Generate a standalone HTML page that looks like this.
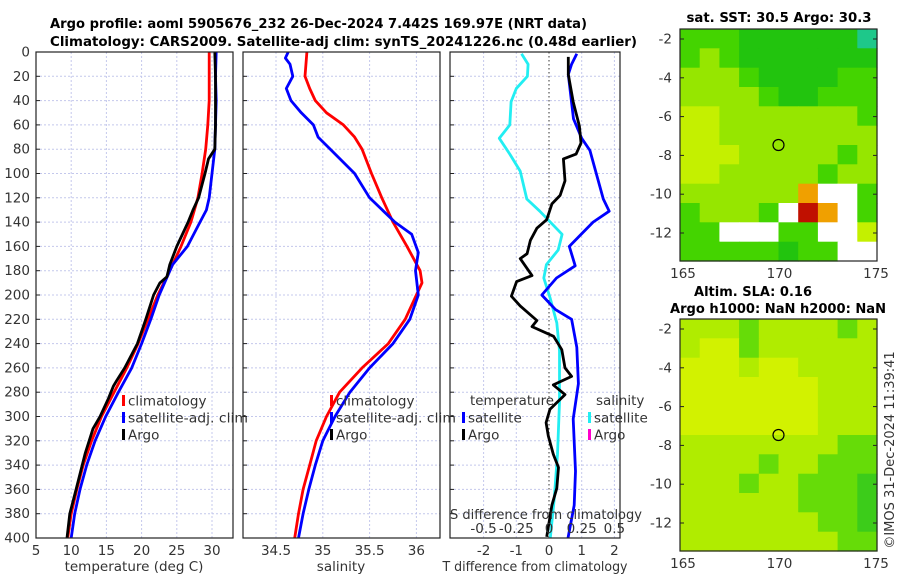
<!DOCTYPE html>
<html><head><meta charset="utf-8"><style>
html,body{margin:0;padding:0;background:#fff;}
svg{display:block;font-family:"DejaVu Sans","Liberation Sans",sans-serif;}
.t{font-size:13.5px;fill:#333;}
.b{font-weight:bold;font-size:13px;fill:#000;}
</style></head><body>
<svg id="fig" width="900" height="580" viewBox="0 0 900 580" xmlns="http://www.w3.org/2000/svg">
<defs>
<clipPath id="c1"><rect x="36" y="52" width="197" height="486"/></clipPath>
<clipPath id="c2"><rect x="243" y="52" width="197" height="486"/></clipPath>
<clipPath id="c3"><rect x="450" y="52" width="170" height="486"/></clipPath>
</defs>
<text class="b" x="50" y="28" textLength="537" lengthAdjust="spacingAndGlyphs">Argo profile: aoml 5905676_232 26-Dec-2024 7.442S 169.97E (NRT data)</text>
<text class="b" x="50" y="46" textLength="587" lengthAdjust="spacingAndGlyphs">Climatology: CARS2009. Satellite-adj clim: synTS_20241226.nc (0.48d earlier)</text>
<g id="grids"></g>
<g id="lines"></g>
<g id="frames"></g>
<g id="labels"></g>
<g id="maps"></g>
<text class="t" transform="translate(894,450) rotate(-90)" text-anchor="middle" style="font-size:13px">©IMOS 31-Dec-2024 11:39:41</text>
</svg>
<script>
// ---- data ----
const depthTicks=[0,20,40,60,80,100,120,140,160,180,200,220,240,260,280,300,320,340,360,380,400];
const tempTicks=[5,10,15,20,25,30];
const salTicks=[34.5,35,35.5,36];
const tdiffTicks=[-2,-1,0,1,2];
const sdiffTickLabels=["-0.5","-0.25","0","0.25","0.5"];
const sdiffTickValues=[-0.5,-0.25,0,0.25,0.5];

const climTD=[0,20,40,60,80,100,120,140,160,180,200,220,240,260,280,300,320,340,360,380,400];
const climT=[29.6,29.6,29.6,29.4,29.1,28.6,28.0,27.0,25.6,24.0,22.3,20.9,19.5,17.9,16.1,14.3,12.9,11.7,10.8,10.0,9.5];
const satTD=[0,20,40,60,80,100,120,130,140,160,175,200,220,240,260,280,300,320,340,360,380,400];
const satT=[30.6,30.5,30.6,30.5,30.4,30.0,29.6,29.2,28.3,26.5,24.4,22.5,21.3,20.0,18.6,16.7,14.9,13.4,12.2,11.25,10.5,10.0];
const argoTD=[0,20,40,60,80,88,100,120,130,140,160,175,185,190,200,220,230,240,260,270,275,285,300,310,330,360,380,400];
const argoT=[30.4,30.5,30.5,30.5,30.4,29.5,29.0,28.1,27.3,26.6,25.0,24.0,23.6,22.6,21.7,20.6,20.0,19.4,17.6,16.5,16.0,15.3,14.1,13.1,12.0,10.7,9.8,9.4];

const climSD=[0,20,30,40,50,60,70,80,100,120,140,160,180,190,200,220,240,260,280,300,320,340,360,380,400];
const climS=[34.83,34.81,34.86,34.92,35.04,35.22,35.34,35.42,35.52,35.63,35.75,35.90,36.04,36.06,36.0,35.88,35.70,35.42,35.18,35.04,34.93,34.86,34.79,34.74,34.70];
const satSD=[0,5,10,20,30,40,50,60,70,80,100,120,140,150,165,180,200,220,240,260,280,300,320,340,360,380,400];
const satS=[34.63,34.60,34.65,34.68,34.61,34.66,34.77,34.90,34.95,35.08,35.34,35.50,35.77,35.95,36.02,35.99,36.02,35.93,35.75,35.50,35.29,35.13,35.0,34.92,34.85,34.79,34.74];

const satTdiffD=[1.5,10,18.5,55,71,81,121,131,140,160,176,186,200,212,220,243,273,302,345,373,400];
const satTdiff=[0.85,0.69,0.59,0.75,1.0,1.25,1.66,1.84,1.35,0.62,0.8,0.23,-0.22,0.2,0.69,0.85,0.9,0.74,0.81,0.77,0.58];
const satSdiffD=[1.5,10,20,30,41,60,71,84,98,121,131,150,163,175,186,203,223,246,288,331,368,400];
const satSdiff=[-0.21,-0.16,-0.165,-0.25,-0.29,-0.3,-0.38,-0.3,-0.22,-0.17,-0.07,0.1,0.07,-0.02,-0.04,0.01,0.06,0.08,0.08,0.065,0.04,0.01];
const argoTdiffD=[4,18.5,41,61,75,84,88,106,118,125,138,145,155,166,170,184,189,201,209,221,226,234,245,260,267,274,282,294,305,316,331,342,359,373,399];
const argoTdiff=[0.59,0.59,0.74,0.93,0.98,0.83,0.44,0.49,0.34,0.09,-0.07,-0.37,-0.57,-0.67,-0.88,-0.52,-0.99,-1.15,-0.88,-0.37,-0.52,0.14,0.39,0.49,0.69,0.13,0.49,0.03,-0.09,-0.02,0.13,0.29,0.24,0.09,-0.07];

const sstGrid=["GGGDDDDDDT","GLGDDDDDDD","LLLGDDDDGG","LLLLGDDGGG","YYLLLLLLLG","YYLLLLLLLL","YYYLLLLLGL","YYLLLLLGLL","LLLLLLOWWG","GLLLGWROWG","GGWWWGGWWY","GGGGGDGGWW"];
const slaGrid=["LLLGLLLLGL","LYYGLLLLLL","YYYLYYLLLL","YYYYYYYLLL","YYYYYYYLLL","YYYYYYYLLL","LLLLLLLLGG","LLLLGLLGGG","LLLGLLGGGD","LLLLLLGGGD","LLLLLLLGGD","LLLLLLLLGG"];

// ---- scales ----
const y=d=>52+d*1.215;
const x1=t=>36+(t-5)*7.04;
const x2=s=>276+(s-34.5)*93.6;
const x3=t=>549+t*32.7;
const x3s=s=>549+s*130.8;
const NS="http://www.w3.org/2000/svg";
function mk(tag,attrs,parent,text){const e=document.createElementNS(NS,tag);for(const k in attrs)e.setAttribute(k,attrs[k]);if(text!==undefined)e.textContent=text;document.getElementById(parent).appendChild(e);return e;}

const panels=[{x0:36,x1:233,clip:"c1"},{x0:243,x1:440,clip:"c2"},{x0:450,x1:620,clip:"c3"}];
panels.forEach((p,i)=>{
  depthTicks.forEach(d=>{if(d>0&&d<400){const g=mk("line",{x1:p.x0,x2:p.x1,y1:y(d),y2:y(d),stroke:"#c4c8ec","stroke-width":1,"stroke-dasharray":"2,2"},"grids");
  
  }});
});
tempTicks.forEach(t=>{const g=mk("line",{x1:x1(t),x2:x1(t),y1:52,y2:538,stroke:"#c4c8ec","stroke-dasharray":"2,2"},"grids");

});
salTicks.forEach(t=>{const g=mk("line",{x1:x2(t),x2:x2(t),y1:52,y2:538,stroke:"#c4c8ec","stroke-dasharray":"2,2"},"grids");

});
tdiffTicks.forEach(t=>{if(t!==0){const g=mk("line",{x1:x3(t),x2:x3(t),y1:52,y2:538,stroke:"#c4c8ec","stroke-dasharray":"2,2"},"grids");

}});
const z=mk("line",{x1:x3(0),x2:x3(0),y1:52,y2:538,stroke:"#333","stroke-dasharray":"1.5,2.5"},"grids");



function series(xs,ds,fx,color,clip,name){
  const pts=xs.map((v,i)=>fx(v).toFixed(1)+","+y(ds[i]).toFixed(1)).join(" ");
  const l=mk("polyline",{points:pts,fill:"none",stroke:color,"stroke-width":2.8,"stroke-linejoin":"round","clip-path":"url(#"+clip+")"},"lines");
  
  
}
series(climT,climTD,x1,"#ff0000","c1","climatology-temp-line");
series(satT,satTD,x1,"#0000ff","c1","satellite-temp-line");
series(argoT,argoTD,x1,"#000000","c1","argo-temp-line");
series(climS,climSD,x2,"#ff0000","c2","climatology-sal-line");
series(satS,satSD,x2,"#0000ff","c2","satellite-sal-line");
series(satSdiff,satSdiffD,x3s,"#22eef2","c3","satellite-sdiff-line");
series(satTdiff,satTdiffD,x3,"#0000ff","c3","satellite-tdiff-line");
series(argoTdiff,argoTdiffD,x3,"#000000","c3","argo-tdiff-line");

panels.forEach((p,i)=>{
  const r=mk("rect",{x:p.x0,y:52,width:p.x1-p.x0,height:486,fill:"none",stroke:"#222","stroke-width":1.2},"frames");
  
  
  depthTicks.forEach(d=>{const t=mk("line",{x1:p.x0,x2:p.x0+4,y1:y(d),y2:y(d),stroke:"#222"},"frames");
  
  });
});
depthTicks.forEach(d=>{const t=mk("text",{x:30,y:y(d)+4.5,"text-anchor":"end",class:"t"},"labels",String(d));

});
tempTicks.forEach(v=>{const t=mk("text",{x:x1(v),y:555,"text-anchor":"middle",class:"t"},"labels",String(v));

});
salTicks.forEach(v=>{const t=mk("text",{x:x2(v),y:555,"text-anchor":"middle",class:"t"},"labels",String(v));

});
tdiffTicks.forEach(v=>{const t=mk("text",{x:x3(v),y:555,"text-anchor":"middle",class:"t"},"labels",String(v));

});
sdiffTickValues.forEach((v,i)=>{const t=mk("text",{x:x3s(v),y:533,"text-anchor":"middle",class:"t"},"labels",sdiffTickLabels[i]);

});
function lab(x,yy,txt,name,anchor,len){const a={x:x,y:yy,"text-anchor":anchor||"start",class:"t"};if(len){a.textLength=len;a.lengthAdjust="spacingAndGlyphs";}const t=mk("text",a,"labels",txt);

return t;}
lab(134,571,"temperature (deg C)","x-axis-title-temperature","middle");
lab(341,571,"salinity","x-axis-title-salinity","middle");
lab(535,571,"T difference from climatology","x-axis-title-tdiff","middle",185);
lab(450,519,"S difference from climatology","sdiff-axis-title","start",192);
function leg(mx,yy,color,txt,name,len){
  const m=mk("rect",{x:mx,y:yy-6,width:3,height:11,fill:color},"labels");
  
  
  lab(mx+6,yy+4.5,txt,name,"start",len);
}
leg(122,401,"#ff0000","climatology","legend-climatology-1");
leg(122,418,"#0000ff","satellite-adj. clim","legend-satellite-1",120);
leg(122,435,"#000000","Argo","legend-argo-1");
leg(330,401,"#ff0000","climatology","legend-climatology-2");
leg(330,418,"#0000ff","satellite-adj. clim","legend-satellite-2",120);
leg(330,435,"#000000","Argo","legend-argo-2");
lab(470,405,"temperature","legend-temperature-header","start",84);
leg(462,418,"#0000ff","satellite","legend-t-satellite");
leg(462,435,"#000000","Argo","legend-t-argo");
lab(596,405,"salinity","legend-salinity-header");
leg(588,418,"#22eef2","satellite","legend-s-satellite");
leg(588,435,"#ff00cc","Argo","legend-s-argo");

const col={D:"#22c40e",G:"#44d400",L:"#96e600",Y:"#c4f000",T:"#1ec88a",W:"#ffffff",O:"#f0a000",R:"#c01000"};
const col2={D:"#3ccc1a",G:"#66dc08",L:"#b0ec00",Y:"#d2f200"};
function drawMap(grid,cmap,top,title,name,circY){
  const x0=680,w=197,h=232,cw=w/10,ch=h/12;
  grid.forEach((row,r)=>{[...row].forEach((c,k)=>{
    const e=mk("rect",{x:(x0+k*cw).toFixed(1),y:(top+r*ch).toFixed(1),width:(cw+0.6).toFixed(1),height:(ch+0.6).toFixed(1),fill:cmap[c]},"maps");
    
    
  });});
  const f=mk("rect",{x:x0,y:top,width:w,height:h,fill:"none",stroke:"#222","stroke-width":1.2},"maps");
  
  
  const latY=lat=>top+10+(-2-lat)*19.4;
  [-2,-4,-6,-8,-10,-12].forEach(l=>{
    const t=mk("text",{x:672,y:latY(l)+4.5,"text-anchor":"end",class:"t"},"maps",String(l));
    
    
    mk("line",{x1:x0,x2:x0+4,y1:latY(l),y2:latY(l),stroke:"#222"},"maps");
    mk("line",{x1:x0+w,x2:x0+w-4,y1:latY(l),y2:latY(l),stroke:"#222"},"maps");
  });
  [165,170,175].forEach(lo=>{
    const xx=683+(lo-165)*19.3;
    const t=mk("text",{x:xx,y:top+h+17,"text-anchor":"middle",class:"t"},"maps",String(lo));
    
    
  });
  const c=mk("circle",{cx:778.5,cy:circY,r:5.5,fill:"none",stroke:"#000","stroke-width":1.2},"maps");
  
  
}
drawMap(sstGrid,col,29,"","sst-map",145);
drawMap(slaGrid,col2,319,"","sla-map",435);
function mt(x,yy,txt,name,len){const t=mk("text",{x:x,y:yy,"text-anchor":"middle",class:"b",textLength:len,lengthAdjust:"spacingAndGlyphs"},"maps",txt);

}
mt(779,22,"sat. SST: 30.5 Argo: 30.3","sst-map-title",185);
mt(753,296,"Altim. SLA: 0.16","sla-map-title",118);
mt(778,313,"Argo h1000: NaN h2000: NaN","argo-height-title",216);
</script>
</body></html>
